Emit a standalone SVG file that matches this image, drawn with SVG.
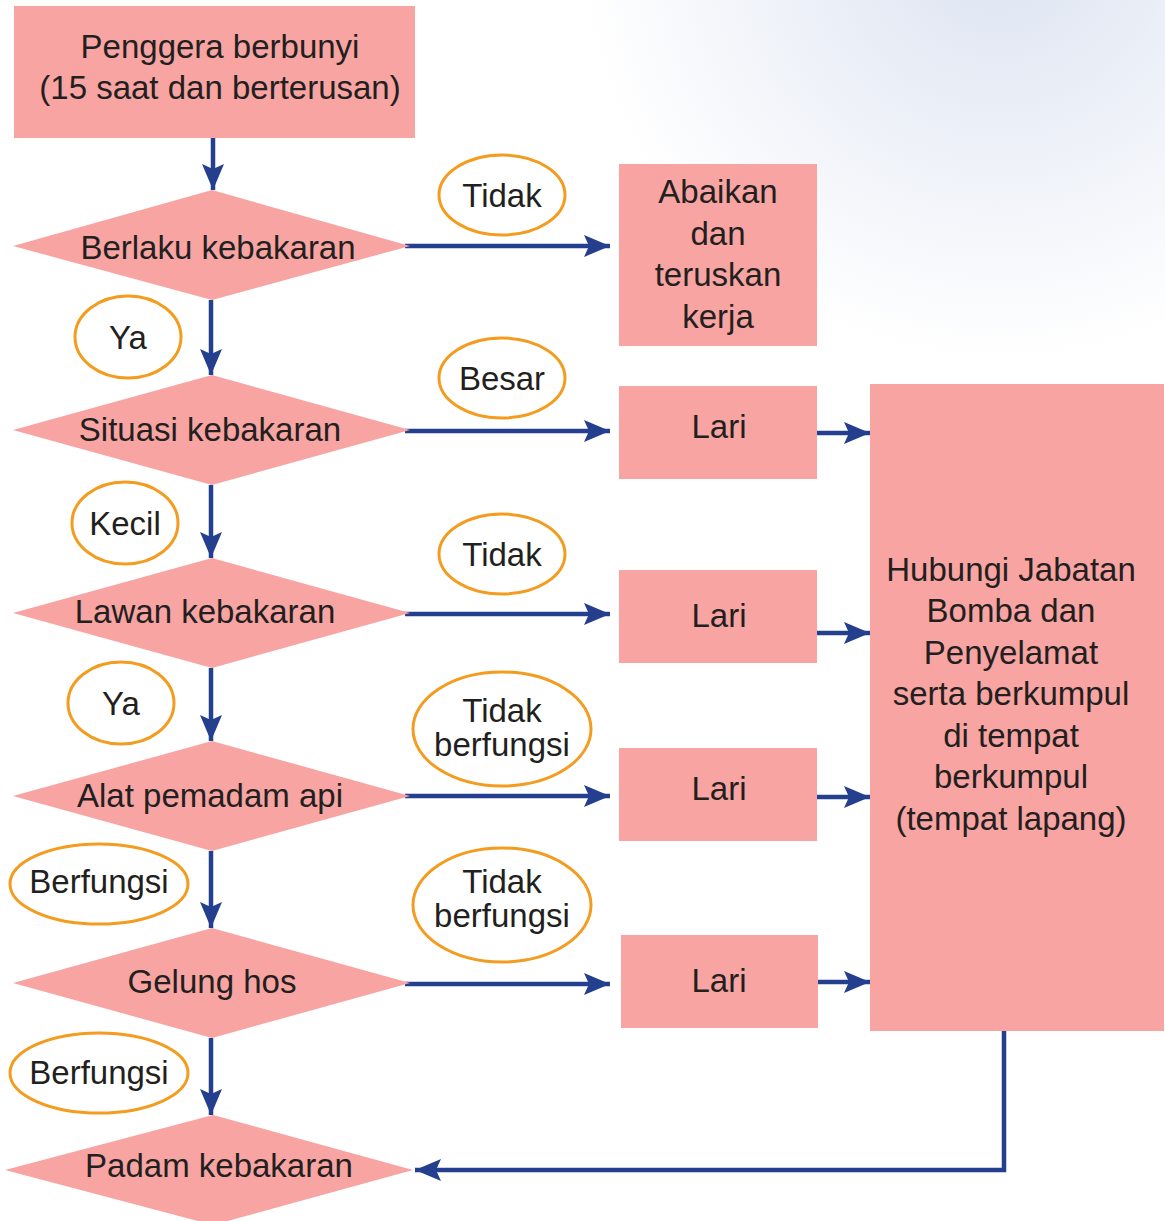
<svg xmlns="http://www.w3.org/2000/svg" width="1165" height="1221" viewBox="0 0 1165 1221">
<defs>
<style>
.box{fill:#F7A4A2}
.t{font-family:"Liberation Sans",Arial,sans-serif;font-size:33px;fill:#231F20;text-anchor:middle}
.lbl{fill:#fff;stroke:#F39C1F;stroke-width:3}
.c{fill:none;stroke:#253F8F;stroke-width:4.5}
</style>
<marker id="ah" markerUnits="userSpaceOnUse" markerWidth="30" markerHeight="24" refX="26" refY="12" orient="auto">
<path d="M0,1 L26,12 L0,23 L5,12 z" fill="#253F8F"/>
</marker>
<radialGradient id="sky" cx="1000" cy="-60" r="420" gradientUnits="userSpaceOnUse">
<stop offset="0" stop-color="#DCE3F1"/>
<stop offset="1" stop-color="#FFFFFF"/>
</radialGradient>
</defs>
<rect width="1165" height="1221" fill="url(#sky)"/>

<g id="connectors">
<line class="c" x1="213" y1="138" x2="213" y2="190" marker-end="url(#ah)"/>
<line class="c" x1="405" y1="246" x2="610" y2="246" marker-end="url(#ah)"/>
<line class="c" x1="211" y1="300" x2="211" y2="375" marker-end="url(#ah)"/>
<line class="c" x1="405" y1="431" x2="610" y2="431" marker-end="url(#ah)"/>
<line class="c" x1="817" y1="433" x2="870" y2="433" marker-end="url(#ah)"/>
<line class="c" x1="211" y1="485" x2="211" y2="558" marker-end="url(#ah)"/>
<line class="c" x1="405" y1="614" x2="610" y2="614" marker-end="url(#ah)"/>
<line class="c" x1="817" y1="633" x2="870" y2="633" marker-end="url(#ah)"/>
<line class="c" x1="211" y1="668" x2="211" y2="741" marker-end="url(#ah)"/>
<line class="c" x1="405" y1="796" x2="610" y2="796" marker-end="url(#ah)"/>
<line class="c" x1="817" y1="797" x2="870" y2="797" marker-end="url(#ah)"/>
<line class="c" x1="211" y1="851" x2="211" y2="928" marker-end="url(#ah)"/>
<line class="c" x1="405" y1="984" x2="610" y2="984" marker-end="url(#ah)"/>
<line class="c" x1="818" y1="982" x2="870" y2="982" marker-end="url(#ah)"/>
<line class="c" x1="211" y1="1038" x2="211" y2="1115" marker-end="url(#ah)"/>
<polyline class="c" points="1004,1031 1004,1170 415,1170" marker-end="url(#ah)"/>
</g>

<g id="start">
<rect class="box" x="14" y="6" width="401" height="132"/>
<text class="t" x="220" y="58">Penggera berbunyi</text>
<text class="t" x="220" y="99">(15 saat dan berterusan)</text>
</g>

<g id="d1">
<polygon class="box" points="212,190 410,246 212,300 13,246"/>
<text class="t" x="218" y="259">Berlaku kebakaran</text>
</g>
<g id="l-tidak1"><ellipse class="lbl" cx="502" cy="195" rx="63" ry="40"/><text class="t" x="502" y="207">Tidak</text></g>
<g id="abaikan">
<rect class="box" x="619" y="164" width="198" height="182"/>
<text class="t" x="718" y="203">Abaikan</text>
<text class="t" x="718" y="245">dan</text>
<text class="t" x="718" y="286">teruskan</text>
<text class="t" x="718" y="328">kerja</text>
</g>
<g id="l-ya1"><ellipse class="lbl" cx="128" cy="337" rx="53" ry="41"/><text class="t" x="128" y="349">Ya</text></g>

<g id="d2">
<polygon class="box" points="212,375 410,430 212,485 13,430"/>
<text class="t" x="210" y="441">Situasi kebakaran</text>
</g>
<g id="l-besar"><ellipse class="lbl" cx="502" cy="378" rx="63" ry="40"/><text class="t" x="502" y="390">Besar</text></g>
<g id="lari1"><rect class="box" x="619" y="386" width="198" height="93"/><text class="t" x="719" y="438">Lari</text></g>
<g id="l-kecil"><ellipse class="lbl" cx="125" cy="523" rx="53" ry="41"/><text class="t" x="125" y="535">Kecil</text></g>

<g id="d3">
<polygon class="box" points="212,558 410,613 212,668 13,613"/>
<text class="t" x="205" y="623">Lawan kebakaran</text>
</g>
<g id="l-tidak2"><ellipse class="lbl" cx="502" cy="554" rx="63" ry="40"/><text class="t" x="502" y="566">Tidak</text></g>
<g id="lari2"><rect class="box" x="619" y="570" width="198" height="93"/><text class="t" x="719" y="627">Lari</text></g>
<g id="l-ya2"><ellipse class="lbl" cx="121" cy="703" rx="53" ry="41"/><text class="t" x="121" y="715">Ya</text></g>

<g id="d4">
<polygon class="box" points="212,741 410,796 212,851 13,796"/>
<text class="t" x="210" y="807">Alat pemadam api</text>
</g>
<g id="l-tb1"><ellipse class="lbl" cx="502" cy="729" rx="89" ry="57"/><text class="t" x="502" y="722">Tidak</text><text class="t" x="502" y="756">berfungsi</text></g>
<g id="lari3"><rect class="box" x="619" y="748" width="198" height="93"/><text class="t" x="719" y="800">Lari</text></g>
<g id="l-bf1"><ellipse class="lbl" cx="99" cy="884" rx="89" ry="40"/><text class="t" x="99" y="893">Berfungsi</text></g>

<g id="d5">
<polygon class="box" points="212,928 410,983 212,1038 13,983"/>
<text class="t" x="212" y="993">Gelung hos</text>
</g>
<g id="l-tb2"><ellipse class="lbl" cx="502" cy="905" rx="89" ry="57"/><text class="t" x="502" y="893">Tidak</text><text class="t" x="502" y="927">berfungsi</text></g>
<g id="lari4"><rect class="box" x="621" y="935" width="197" height="93"/><text class="t" x="719" y="992">Lari</text></g>
<g id="l-bf2"><ellipse class="lbl" cx="99" cy="1073" rx="89" ry="40"/><text class="t" x="99" y="1084">Berfungsi</text></g>

<g id="d6">
<polygon class="box" points="213,1115 413,1170 213,1225 5,1170"/>
<text class="t" x="219" y="1177">Padam kebakaran</text>
</g>

<g id="hubungi">
<rect class="box" x="870" y="384" width="294" height="647"/>
<text class="t" x="1011" y="581">Hubungi Jabatan</text>
<text class="t" x="1011" y="622">Bomba dan</text>
<text class="t" x="1011" y="664">Penyelamat</text>
<text class="t" x="1011" y="705">serta berkumpul</text>
<text class="t" x="1011" y="747">di tempat</text>
<text class="t" x="1011" y="788">berkumpul</text>
<text class="t" x="1011" y="830">(tempat lapang)</text>
</g>
</svg>
